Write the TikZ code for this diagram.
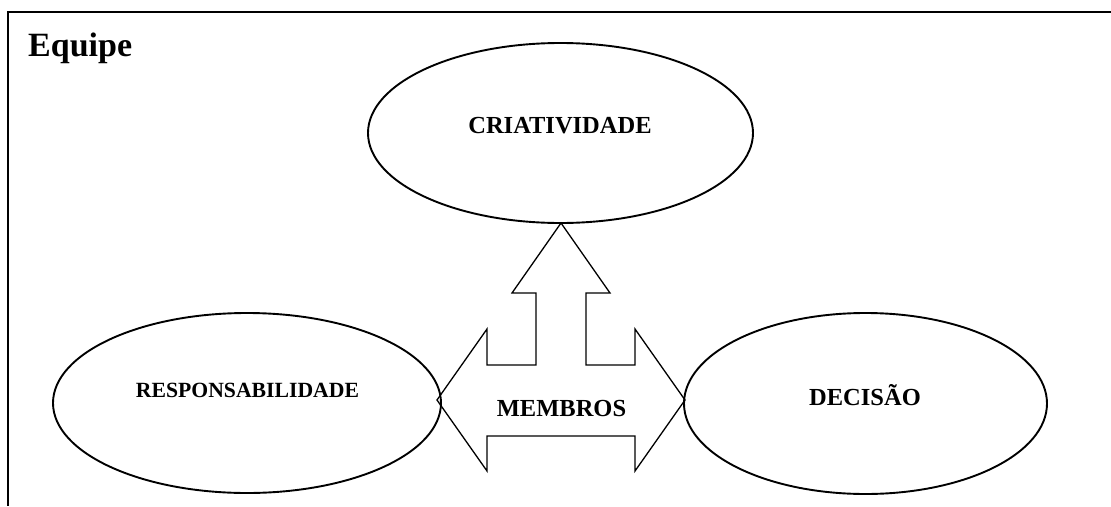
\documentclass[tikz,border=0pt]{standalone}
\usepackage{fontspec}
\setmainfont{Liberation Serif}
\usepackage{tikz}
\usetikzlibrary{shapes}

\tikzset{
	bola/.style={draw, shape=ellipse, line width=1.9pt, inner sep=0pt, outer sep=0pt},
	rotulo/.style={anchor=base, inner sep=0pt, font=\bfseries\fontsize{24.5}{29}\selectfont},
	seta/.style={draw, line width=1.3pt, line join=miter},
}

\begin{document}
\begin{tikzpicture}[x=1pt, y=-1pt]
		\useasboundingbox (0,0) rectangle (1111,506);
		% moldura
		\draw[line width=1.9pt] (1111,12) -- (8,12) -- (8,506);
		\node (equipe) [rotulo, anchor=base west, font=\bfseries\fontsize{34}{40}\selectfont] at (28,56) {Equipe};

		\node (criat) [bola, minimum width=385pt, minimum height=180pt] at (560.5,133) {};
		\node (resp) [bola, minimum width=388pt, minimum height=180pt] at (247,403) {};
		\node (decis) [bola, minimum width=363pt, minimum height=181pt] at (865.5,403.5) {};

		\node (criattxt) [rotulo] at (560,133) {CRIATIVIDADE};
		\node (resptxt) [rotulo, font=\bfseries\fontsize{21.7}{26}\selectfont] at (247.5,397) {RESPONSABILIDADE};
		\node (decistxt) [rotulo] at (865,405) {DECISÃO};

		% seta de tres pontas
		\draw[seta] (561,223) -- (610,293) -- (586,293) -- (586,365) -- (635,365) -- (635,329)
			-- (685,400) -- (635,471) -- (635,436) -- (487,436) -- (487,471) -- (437,400)
			-- (487,329) -- (487,365) -- (536,365) -- (536,293) -- (512,293) -- cycle;
		\node (membros) [rotulo] at (561.5,416) {MEMBROS};
\end{tikzpicture}
\end{document}
